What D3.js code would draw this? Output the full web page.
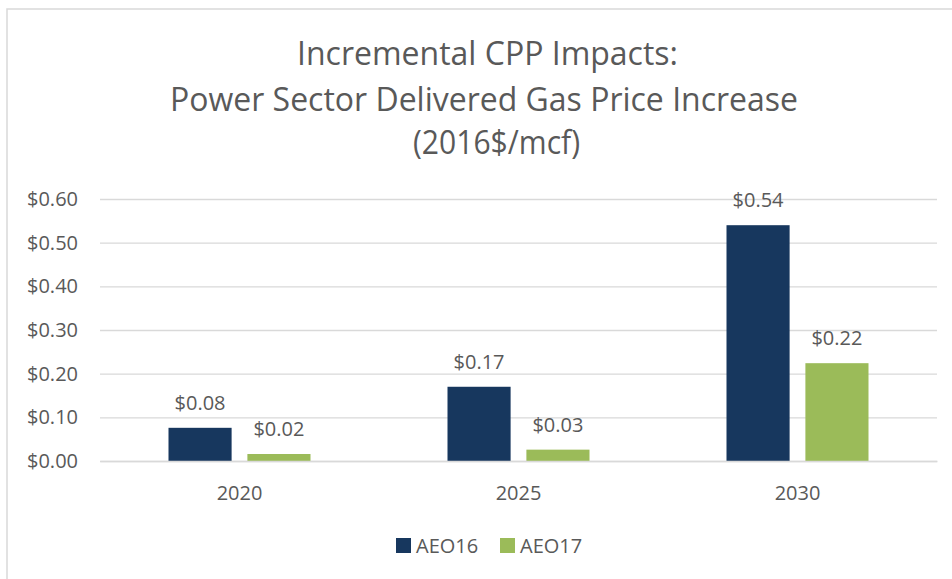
<!DOCTYPE html>
<html>
<head>
<meta charset="utf-8">
<script src="https://cdn.jsdelivr.net/npm/d3@7"></script>
<style>
  body { margin: 0; background: #fff; }
  text { font-family: 'Open Sans', sans-serif; fill: #595959; }
</style>
</head>
<body>
<svg id="chart" width="952" height="579"></svg>
<script>
// values
var years = ['2020', '2025', '2030'];
var seriesNames = ['AEO16', 'AEO17'];
var aeo16 = [0.076, 0.17, 0.54];
var aeo17 = [0.016, 0.026, 0.224];
var yTicks = [0, 0.1, 0.2, 0.3, 0.4, 0.5, 0.6];
var titleLines = ['Incremental CPP Impacts:', 'Power Sector Delivered Gas Price Increase', '(2016$/mcf)'];

var colors = { AEO16: '#17375E', AEO17: '#9BBB59' };
var svg = d3.select('#chart');

// outer chart border (runs off right / bottom of the picture)
svg.append('rect')
	.attr('x', 7)
	.attr('y', 9)
	.attr('width', 960)
	.attr('height', 600)
	.style('fill', 'none')
	.style('stroke', '#d9d9d9')
	.style('stroke-width', 1.5);

// title -- squeezed to the width of the original narrow font
var titleSpots = [
	{ x: 297, y: 65, w: 381 },
	{ x: 170, y: 111, w: 628 },
	{ x: 413, y: 154, w: 167 }
];
svg.append('g').selectAll('text')
	.data(titleLines)
	.enter()
	.append('text')
	.attr('x', function (d, i) { return titleSpots[i].x; })
	.attr('y', function (d, i) { return titleSpots[i].y; })
	.attr('textLength', function (d, i) { return titleSpots[i].w; })
	.attr('lengthAdjust', 'spacingAndGlyphs')
	.style('font-size', '32px')
	.text(function (d) { return d; });

var plotLeft = 100, plotRight = 937, plotTop = 199, plotBottom = 461;

var x0 = d3.scaleBand().domain(years).range([plotLeft, plotRight]);
var groupW = 142;
var x1 = d3.scaleBand().domain(seriesNames).range([0, groupW]).paddingInner(0.2);
var y = d3.scaleLinear().domain([0, 0.6]).range([plotBottom, plotTop]);

var money = function (v) { return '$' + v.toFixed(2); };

// gridlines + y labels
var yAxis = svg.append('g')
	.attr('transform', 'translate(' + plotLeft + ',0)')
	.call(d3.axisLeft(y).tickValues(yTicks).tickFormat(money)
		.tickSize(-(plotRight - plotLeft)).tickPadding(22));
yAxis.select('.domain').remove();
yAxis.selectAll('line').style('stroke', '#d9d9d9').style('stroke-width', 1.3);
yAxis.selectAll('text')
	.style('font-size', '20px')
	.style('font-family', "'Open Sans', sans-serif")
	.style('fill', '#595959');

// bars
var rows = years.map(function (yr, i) {
	return { year: yr, vals: [
		{ name: 'AEO16', v: aeo16[i] },
		{ name: 'AEO17', v: aeo17[i] }
	] };
});

var groups = svg.append('g').selectAll('g')
	.data(rows)
	.enter()
	.append('g')
	.attr('transform', function (d) {
		return 'translate(' + (x0(d.year) + x0.bandwidth() / 2 - groupW / 2) + ',0)';
	});

groups.selectAll('rect')
	.data(function (d) { return d.vals; })
	.enter()
	.append('rect')
	.attr('x', function (d) { return x1(d.name); })
	.attr('y', function (d) { return y(d.v); })
	.attr('width', x1.bandwidth())
	.attr('height', function (d) { return y(0) - y(d.v); })
	.style('fill', function (d) { return colors[d.name]; });

// data labels
groups.selectAll('text')
	.data(function (d) { return d.vals; })
	.enter()
	.append('text')
	.attr('x', function (d) { return x1(d.name) + x1.bandwidth() / 2; })
	.attr('y', function (d) { return y(d.v) - 18; })
	.attr('text-anchor', 'middle')
	.style('font-size', '20px')
	.text(function (d) { return money(d.v); });

// x axis line + year labels
var xAxis = svg.append('g')
	.attr('transform', 'translate(0,' + plotBottom + ')')
	.call(d3.axisBottom(x0).tickSize(0));
xAxis.select('.domain').style('stroke', '#d9d9d9').style('stroke-width', 1.3);
xAxis.selectAll('text')
	.attr('y', 39)
	.attr('dy', 0)
	.style('font-size', '20px')
	.style('font-family', "'Open Sans', sans-serif")
	.style('fill', '#595959');

// legend
var legend = svg.append('g').selectAll('g')
	.data(seriesNames)
	.enter()
	.append('g')
	.attr('transform', function (d, i) { return 'translate(' + (396 + i * 104) + ',538)'; });

legend.append('rect')
	.attr('width', 15)
	.attr('height', 15)
	.style('fill', function (d) { return colors[d]; });

legend.append('text')
	.attr('x', 20)
	.attr('y', 15)
	.style('font-size', '20px')
	.text(function (d) { return d; });
</script>
</body>
</html>
